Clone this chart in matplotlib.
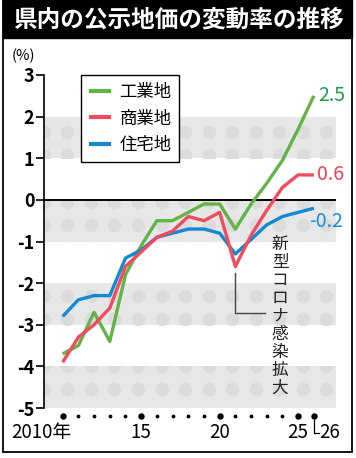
import numpy as np
import matplotlib
matplotlib.use("Agg")
import matplotlib.pyplot as plt
from matplotlib.patches import Rectangle

plt.rcParams['font.family'] = ['Noto Sans CJK JP', 'DejaVu Sans']

years = list(range(2010, 2027))
industrial = [-3.7, -3.5, -2.7, -3.4, -1.8, -1.1, -0.5, -0.5, -0.3, -0.1, -0.1, -0.7, -0.1, 0.4, 0.95, 1.7, 2.5]
commercial = [-3.9, -3.3, -3.0, -2.6, -1.6, -1.25, -0.9, -0.75, -0.4, -0.5, -0.3, -1.6, -0.85, -0.25, 0.3, 0.6, 0.6]
residential = [-2.8, -2.4, -2.3, -2.3, -1.4, -1.2, -0.9, -0.8, -0.7, -0.7, -0.8, -1.3, -0.95, -0.6, -0.4, -0.3, -0.2]
series_names = ['工業地', '商業地', '住宅地']
end_labels = ['2.5', '0.6', '-0.2']
yticks = [3, 2, 1, 0, -1, -2, -3, -4, -5]
major_years = [2010, 2015, 2020, 2025, 2026]
xlabels = ['2010年', '15', '20', '25', '26']
title = '県内の公示地価の変動率の推移'
note = '新型コロナ感染拡大'

green = '#63b447'
red = '#f04b5f'
blue = '#1189d3'

W, H = 356, 458
fig = plt.figure(figsize=(W / 100, H / 100), dpi=100)

# outer frame & title bar
fig.patches.append(Rectangle((3 / W, 1 - 452 / H), 349 / W, 452 / H, transform=fig.transFigure,
                             fill=False, edgecolor='black', linewidth=1.3))
fig.patches.append(Rectangle((3 / W, 1 - 38 / H), 349 / W, 38 / H, transform=fig.transFigure,
                             facecolor='black', edgecolor='black'))
fig.text(178 / W, 1 - 20 / H, title, color='white', fontsize=17, fontweight='bold',
         ha='center', va='center')
fig.text(12 / W, 1 - 56 / H, '(%)', fontsize=10.5, ha='left', va='center')

ax = fig.add_axes([44 / W, 1 - 408 / H, 292 / W, 333 / H])
ax.set_xlim(2008.81, 2027.41)
ax.set_ylim(-5, 3)

# shaded bands with dotted texture
bands = [(1, 2), (-1, 0), (-3, -2), (-5, -4)]
xs_dots = np.arange(2010.3 - 3, 2028, 1.5)
ys_dots = 1.64 - 0.5625 * np.arange(0, 12)
for lo, hi in bands:
    r = Rectangle((2008.81, lo), 2027.41 - 2008.81, hi - lo, facecolor='#e7e7e7',
                  edgecolor='none', zorder=0)
    ax.add_patch(r)
    gx, gy = np.meshgrid(xs_dots, ys_dots[(ys_dots > lo - 0.2) & (ys_dots < hi + 0.2)])
    sc = ax.scatter(gx.ravel(), gy.ravel(), s=95, color='#dbdbdb', linewidths=0, zorder=0.5)
    sc.set_clip_path(r)

ax.axhline(0, color='black', linewidth=1.4, zorder=1)

l1, = ax.plot(years, industrial, color=green, linewidth=2.4, zorder=3, solid_capstyle='butt')
l3, = ax.plot(years, residential, color=blue, linewidth=2.4, zorder=4, solid_capstyle='butt')
l2, = ax.plot(years, commercial, color=red, linewidth=2.4, zorder=5, solid_capstyle='butt')

leg = ax.legend([l1, l2, l3], series_names, loc='upper left', bbox_to_anchor=(0.127, 1.0),
                borderaxespad=0, fontsize=12.5, handlelength=1.3, handletextpad=0.45,
                labelspacing=0.5, borderpad=0.45, fancybox=False, framealpha=1,
                edgecolor='black')
leg.get_frame().set_linewidth(1.0)
for lh in leg.get_lines():
    lh.set_linewidth(3)

# end labels
ax.text(2026.25, industrial[-1], end_labels[0], color='#1e9a48', fontsize=14,
        ha='left', va='center')
ax.text(2026.2, commercial[-1], end_labels[1], color='#ee3f55', fontsize=14,
        ha='left', va='center')
ax.text(2025.7, residential[-1] - 0.33, end_labels[2], color='#1a8fd5', fontsize=14,
        ha='left', va='center')

# covid annotation
ax.plot([2021, 2021, 2022.9], [-1.75, -2.71, -2.71], color='#444444', linewidth=1.0, zorder=6)
ax.text(2023.85, -2.8, '\n'.join(note), fontsize=12, ha='center', va='center',
        linespacing=1.08, color='#222222', zorder=6)

# spines / y ticks
for s in ['top', 'right', 'bottom']:
    ax.spines[s].set_visible(False)
ax.spines['left'].set_linewidth(1.2)
ax.set_yticks(yticks)
ax.set_yticklabels([str(v) for v in yticks], fontsize=13, fontweight='bold')
ax.tick_params(axis='y', length=6, width=1.2, pad=1)
ax.set_xticks([])

# x dots and labels
tr = ax.get_xaxis_transform()
small = [y for y in years if y not in major_years]
ax.scatter(small, [-0.023] * len(small), s=3, color='black', transform=tr, clip_on=False)
ax.scatter(major_years, [-0.023] * len(major_years), s=13, color='black', transform=tr, clip_on=False)
for yv, lab in zip(major_years, xlabels):
    if lab.endswith('年'):
        ax.text(yv + 0.55, -0.075, lab, transform=tr, ha='right', va='center', fontsize=13.5)
    elif yv == 2026:
        ax.text(yv + 0.35, -0.075, lab, transform=tr, ha='left', va='center', fontsize=13.5)
    else:
        ax.text(yv, -0.075, lab, transform=tr, ha='center', va='center', fontsize=13.5)
ax.plot([2026, 2026, 2026.35], [-0.036, -0.075, -0.075], transform=tr, color='black',
        linewidth=0.9, clip_on=False)

fig.savefig('out.png', dpi=100)
